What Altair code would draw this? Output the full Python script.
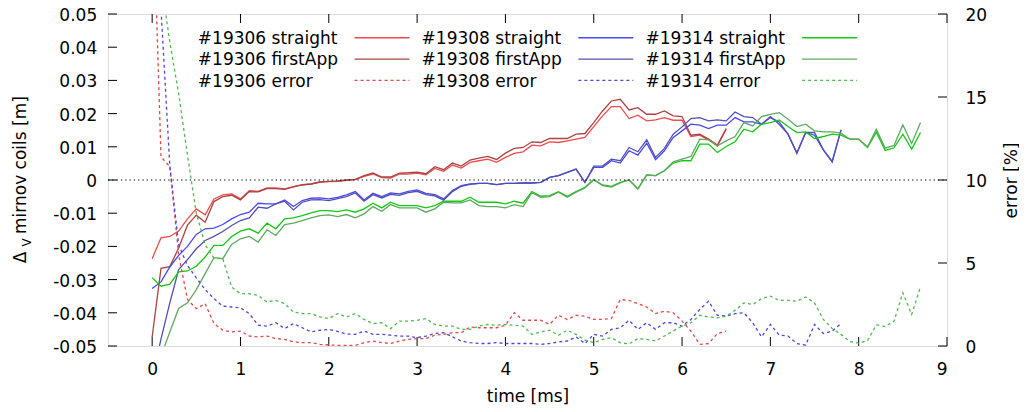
import altair as alt
import pandas as pd

FONT = "DejaVu Sans"
STEP = 0.1  # ms between samples

shots = ["#19306", "#19308", "#19314"]
kinds = ["straight", "firstApp", "error"]

# ---- #19306 ----
r_straight = [-0.0237, -0.0174, -0.0170, -0.0154, -0.0117, -0.0087, -0.0105, -0.0057, -0.0045, -0.0042,
              -0.0057, -0.0032, -0.0034, -0.0024, -0.0024, -0.0027, -0.0020, -0.0014, -0.0012, -0.0006,
              -0.0005, -0.0004, -0.0001, 0.0001, 0.0011, 0.0018, 0.0007, 0.0006, 0.0018, 0.0018,
              0.0021, 0.0016, 0.0035, 0.0026, 0.0045, 0.0036, 0.0053, 0.0058, 0.0063, 0.0053,
              0.0068, 0.0080, 0.0085, 0.0105, 0.0103, 0.0115, 0.0113, 0.0118, 0.0123, 0.0128,
              0.0161, 0.0193, 0.0221, 0.0221, 0.0185, 0.0195, 0.0178, 0.0181, 0.0188, 0.0180,
              0.0180, 0.0131, 0.0135, 0.0121, 0.0102, 0.0153]
r_firstapp = [-0.0473, -0.0266, -0.0261, -0.0205, -0.0136, -0.0106, -0.0127, -0.0065, -0.0050, -0.0046,
              -0.0060, -0.0035, -0.0036, -0.0026, -0.0026, -0.0028, -0.0021, -0.0015, -0.0012, -0.0006,
              -0.0004, -0.0003, 0.0000, 0.0002, 0.0013, 0.0021, 0.0009, 0.0009, 0.0021, 0.0022,
              0.0024, 0.0019, 0.0040, 0.0031, 0.0051, 0.0042, 0.0060, 0.0066, 0.0071, 0.0062,
              0.0081, 0.0095, 0.0098, 0.0115, 0.0113, 0.0125, 0.0125, 0.0125, 0.0138, 0.0140,
              0.0173, 0.0208, 0.0238, 0.0243, 0.0211, 0.0218, 0.0198, 0.0198, 0.0208, 0.0193,
              0.0191, 0.0135, 0.0138, 0.0123, 0.0105, 0.0155]
r_error = [28.6, 11.4, 10.8, 5.5, 2.8, 2.25, 2.55, 1.35, 0.95, 0.85,
           0.9, 0.6, 0.55, 0.6, 0.45, 0.4, 0.25, 0.2, 0.2, 0.1,
           0.06, 0.04, 0.04, 0.04, 0.2, 0.3, 0.2, 0.15, 0.3, 0.4,
           0.45, 0.45, 0.65, 0.7, 0.8, 0.8, 1.15, 1.1, 1.1, 1.1,
           1.25, 2.0, 1.55, 1.55, 1.55, 1.3, 1.85, 1.6, 1.85, 1.8,
           1.6, 1.6, 1.65, 2.8, 2.75, 2.55, 2.35, 1.95, 2.1, 2.0,
           1.5, 0.9, 0.1, 0.15, 0.75, 0.9]

# ---- #19308 ----
b_straight = [-0.0327, -0.0307, -0.0262, -0.0227, -0.0200, -0.0164, -0.0147, -0.0145, -0.0134, -0.0117,
              -0.0104, -0.0097, -0.0070, -0.0072, -0.0072, -0.0060, -0.0080, -0.0062, -0.0055, -0.0054,
              -0.0057, -0.0052, -0.0045, -0.0035, -0.0060, -0.0040, -0.0050, -0.0039, -0.0042, -0.0034,
              -0.0030, -0.0040, -0.0044, -0.0057, -0.0032, -0.0017, -0.0012, -0.0010, -0.0010, -0.0014,
              -0.0010, -0.0010, -0.0009, -0.0009, -0.0007, 0.0008, 0.0013, 0.0023, 0.0033, -0.0007,
              0.0038, 0.0038, 0.0058, 0.0051, 0.0088, 0.0075, 0.0111, 0.0061, 0.0088, 0.0128,
              0.0148, 0.0168, 0.0165, 0.0155, 0.0165, 0.0165, 0.0188, 0.0175, 0.0175, 0.0168,
              0.0188, 0.0175, 0.0138, 0.0081, 0.0143, 0.0135, 0.0091, 0.0055, 0.0151]
b_firstapp = [-0.0600, -0.0479, -0.0370, -0.0270, -0.0240, -0.0207, -0.0182, -0.0170, -0.0155, -0.0137,
              -0.0122, -0.0114, -0.0082, -0.0085, -0.0072, -0.0064, -0.0090, -0.0067, -0.0060, -0.0059,
              -0.0062, -0.0056, -0.0050, -0.0039, -0.0064, -0.0044, -0.0054, -0.0043, -0.0046, -0.0038,
              -0.0034, -0.0044, -0.0048, -0.0061, -0.0035, -0.0019, -0.0013, -0.0010, -0.0010, -0.0014,
              -0.0010, -0.0010, -0.0009, -0.0009, -0.0007, 0.0008, 0.0013, 0.0023, 0.0033, -0.0007,
              0.0042, 0.0042, 0.0063, 0.0058, 0.0098, 0.0085, 0.0121, 0.0068, 0.0095, 0.0138,
              0.0160, 0.0185, 0.0188, 0.0178, 0.0181, 0.0178, 0.0205, 0.0191, 0.0188, 0.0168,
              0.0191, 0.0168, 0.0138, 0.0081, 0.0143, 0.0143, 0.0091, 0.0055, 0.0151]
b_error = [35.0, 20.3, 10.85, 6.1, 4.85, 4.1, 3.4, 2.85, 2.4, 2.35,
           2.3, 1.95, 1.25, 1.2, 1.4, 1.05, 1.35, 1.1, 0.85, 0.95,
           1.0, 0.88, 0.72, 0.7, 0.9, 0.7, 0.7, 0.65, 0.6, 0.6,
           0.5, 0.6, 0.75, 0.8, 0.55, 0.3, 0.2, 0.15, 0.15, 0.2,
           0.15, 0.15, 0.15, 0.15, 0.1, 0.15, 0.25, 0.3, 0.55, 0.15,
           0.7, 0.6, 1.0, 1.1, 1.55, 1.0, 1.4, 1.0, 1.4, 1.4,
           1.2, 1.6, 2.2, 2.7, 1.85, 1.8, 1.95, 2.0, 1.4, 0.55,
           1.3, 0.65, 0.6, 0.15, 0.05, 1.3, 0.75, 0.9, 1.35]

# ---- #19314 ----
g_straight = [-0.0294, -0.0320, -0.0314, -0.0277, -0.0274, -0.0260, -0.0232, -0.0197, -0.0197, -0.0170,
              -0.0154, -0.0147, -0.0160, -0.0130, -0.0147, -0.0117, -0.0114, -0.0107, -0.0099, -0.0092,
              -0.0092, -0.0095, -0.0090, -0.0097, -0.0087, -0.0070, -0.0084, -0.0067, -0.0077, -0.0077,
              -0.0077, -0.0084, -0.0077, -0.0064, -0.0064, -0.0064, -0.0052, -0.0067, -0.0067, -0.0067,
              -0.0072, -0.0064, -0.0070, -0.0035, -0.0049, -0.0047, -0.0035, -0.0049, -0.0035, -0.0022,
              0.0001, -0.0015, -0.0019, -0.0007, 0.0001, -0.0027, 0.0015, 0.0013, 0.0028, 0.0051,
              0.0058, 0.0058, 0.0108, 0.0108, 0.0083, 0.0101, 0.0115, 0.0153, 0.0145, 0.0168,
              0.0173, 0.0181, 0.0161, 0.0143, 0.0145, 0.0125, 0.0131, 0.0138, 0.0135, 0.0123,
              0.0123, 0.0098, 0.0144, 0.0089, 0.0097, 0.0138, 0.0093, 0.0143]
g_firstapp = [-0.0600, -0.0530, -0.0458, -0.0387, -0.0370, -0.0330, -0.0282, -0.0234, -0.0237, -0.0194,
              -0.0177, -0.0170, -0.0187, -0.0150, -0.0167, -0.0134, -0.0130, -0.0122, -0.0114, -0.0107,
              -0.0105, -0.0110, -0.0104, -0.0114, -0.0102, -0.0080, -0.0094, -0.0074, -0.0084, -0.0084,
              -0.0084, -0.0097, -0.0087, -0.0067, -0.0069, -0.0069, -0.0060, -0.0077, -0.0080, -0.0080,
              -0.0084, -0.0074, -0.0080, -0.0038, -0.0052, -0.0050, -0.0037, -0.0052, -0.0037, -0.0024,
              0.0001, -0.0017, -0.0021, -0.0009, 0.0000, -0.0027, 0.0015, 0.0013, 0.0028, 0.0055,
              0.0063, 0.0071, 0.0123, 0.0121, 0.0103, 0.0118, 0.0131, 0.0173, 0.0163, 0.0191,
              0.0198, 0.0203, 0.0183, 0.0161, 0.0168, 0.0148, 0.0145, 0.0145, 0.0141, 0.0123,
              0.0123, 0.0100, 0.0153, 0.0096, 0.0104, 0.0166, 0.0110, 0.0173]
g_error = [30.0, 22.0, 18.3, 15.2, 11.5, 8.0, 6.1, 5.3, 5.25, 3.55,
           3.15, 3.15, 3.05, 2.65, 2.75, 2.55, 2.05, 1.95, 1.95, 1.75,
           1.65, 1.95, 1.75, 1.95, 1.6, 1.35, 1.4, 1.05, 1.5, 1.5,
           1.55, 1.65, 1.3, 1.2, 1.2, 1.0, 1.0, 1.2, 1.3, 1.25,
           1.3, 1.25, 1.2, 0.7, 0.85, 0.95, 0.65, 0.95, 0.7, 0.35,
           0.2, 0.4, 0.5, 0.2, 0.12, 0.45, 0.4, 0.3, 0.6, 0.9,
           1.2, 1.4, 1.85, 1.75, 1.7, 1.8, 2.15, 2.6, 2.5, 2.85,
           3.0, 2.75, 2.75, 2.7, 2.95, 2.6, 1.6, 1.05, 0.7, 0.27,
           0.17, 0.32, 1.27, 1.17, 1.5, 3.2, 1.9, 3.57]

series_colors = ["#f04a4a", "#a84444", "#e04848",
                 "#4848f0", "#5050b4", "#4848e0",
                 "#14c814", "#60a860", "#50b850"]

x_tick_values = [0, 1, 2, 3, 4, 5, 6, 7, 8, 9]
yl_tick_values = [-0.05, -0.04, -0.03, -0.02, -0.01, 0, 0.01, 0.02, 0.03, 0.04, 0.05]
yr_tick_values = [0, 5, 10, 15, 20]

# legend layout (data units): text column starts, sample spans, row levels
LEG_TEXT_T = [0.517, 3.051, 5.585]
LEG_SAMPLE_T = [(2.292, 2.914), (4.826, 5.448), (7.360, 7.982)]
LEG_ROW_V = [0.04285, 0.0364, 0.0300]

W, H = 839, 332
XS = alt.Scale(domain=[-0.5, 9], nice=False, zero=False)
YL = alt.Scale(domain=[-0.05, 0.05], nice=False, zero=False)
YR = alt.Scale(domain=[0, 20], nice=False, zero=False)

XAX = alt.Axis(values=x_tick_values, format="d", title="time [ms]", domain=False, ticks=False, tickSize=0,
               grid=False, labelFont=FONT, labelFontSize=17, labelColor="black", labelPadding=15,
               titleFont=FONT, titleFontSize=17, titleFontWeight="normal", titleColor="black",
               titleY=55.5, titleBaseline="alphabetic")
YLAX = alt.Axis(values=yl_tick_values, title=None, domain=False, ticks=False, tickSize=0, grid=False,
                labelExpr="abs(datum.value) < 1e-9 ? '0' : (datum.value < 0 ? '-' : '') + format(abs(datum.value), '.2f')",
                labelFont=FONT, labelFontSize=17, labelColor="black", labelPadding=11.3, labelOffset=1.5)
YRAX = alt.Axis(orient="right", values=yr_tick_values, format="d", title="error [%]", domain=False,
                ticks=False, tickSize=0, grid=False, labelFont=FONT, labelFontSize=17, labelColor="black",
                labelPadding=18, labelOffset=1.5, titleFont=FONT, titleFontSize=17, titleFontWeight="normal",
                titleColor="black", titleAngle=270, titleX=64, titleBaseline="middle")

data_by_shot = {
    "#19306": (r_straight, r_firstapp, r_error),
    "#19308": (b_straight, b_firstapp, b_error),
    "#19314": (g_straight, g_firstapp, g_error),
}

keys = [f"{s} {k}" for s in shots for k in kinds]
CS = alt.Scale(domain=keys, range=series_colors)

line_rows, err_rows, leg_rows = [], [], []
for i, s in enumerate(shots):
    st, fa, er = data_by_shot[s]
    for kind, vals in (("straight", st), ("firstApp", fa)):
        for j, v in enumerate(vals):
            line_rows.append({"t": round(j * STEP, 1), "v": v, "key": f"{s} {kind}"})
    for j, v in enumerate(er):
        err_rows.append({"t": round(j * STEP, 1), "e": v, "key": f"{s} error"})
    for r, kind in enumerate(kinds):
        leg_rows.append({"label": f"{s} {kind}", "key": f"{s} {kind}",
                         "tx": LEG_TEXT_T[i], "sx1": LEG_SAMPLE_T[i][0], "sx2": LEG_SAMPLE_T[i][1],
                         "ly": LEG_ROW_V[r], "dotted": kind == "error"})

df_lines = pd.DataFrame(line_rows)
df_err = pd.DataFrame(err_rows)
df_leg = pd.DataFrame(leg_rows)

lines = alt.Chart(df_lines).mark_line(strokeWidth=1.3, clip=True).encode(
    x=alt.X("t:Q", scale=XS, axis=XAX),
    y=alt.Y("v:Q", scale=YL, axis=YLAX),
    color=alt.Color("key:N", scale=CS, legend=None),
)

zero = alt.Chart(pd.DataFrame({"v": [0.0]})).mark_rule(
    color="black", strokeWidth=1, strokeDash=[1.3, 3]).encode(
    y=alt.Y("v:Q", scale=YL, axis=YLAX), x=alt.value(0), x2=alt.value(W))

left_ticks = alt.Chart(pd.DataFrame({"v": yl_tick_values})).mark_rule(color="black", strokeWidth=1).encode(
    y=alt.Y("v:Q", scale=YL, axis=YLAX), x=alt.value(0), x2=alt.value(9))

xt = pd.DataFrame({"t": x_tick_values})
x_ticks_bottom = alt.Chart(xt).mark_rule(color="black", strokeWidth=1).encode(
    x=alt.X("t:Q", scale=XS, axis=XAX), y=alt.value(H), y2=alt.value(H - 9))
x_ticks_top = alt.Chart(xt).mark_rule(color="black", strokeWidth=1).encode(
    x=alt.X("t:Q", scale=XS, axis=XAX), y=alt.value(0), y2=alt.value(9))

leg_text = alt.Chart(df_leg).mark_text(
    align="left", baseline="middle", font=FONT, fontSize=17, color="black", dy=1.2).encode(
    x=alt.X("tx:Q", scale=XS, axis=XAX), y=alt.Y("ly:Q", scale=YL, axis=YLAX), text="label:N")
leg_solid = alt.Chart(df_leg).transform_filter("!datum.dotted").mark_rule(strokeWidth=1.3).encode(
    x=alt.X("sx1:Q", scale=XS, axis=XAX), x2="sx2:Q",
    y=alt.Y("ly:Q", scale=YL, axis=YLAX), color=alt.Color("key:N", scale=CS, legend=None))
leg_dotted = alt.Chart(df_leg).transform_filter("datum.dotted").mark_rule(
    strokeWidth=1.3, strokeDash=[3, 3]).encode(
    x=alt.X("sx1:Q", scale=XS, axis=XAX), x2="sx2:Q",
    y=alt.Y("ly:Q", scale=YL, axis=YLAX), color=alt.Color("key:N", scale=CS, legend=None))


def free_text(txt, x, y, size, align="center"):
    return alt.Chart(alt.Data(values=[{}])).mark_text(
        text=txt, font=FONT, fontSize=size, angle=270, align=align, baseline="alphabetic",
        color="black").encode(x=alt.value(x), y=alt.value(y))


title_delta = free_text("Δ", -81.6, 243.5, 17)
title_sub = free_text("V", -77.5, 228.5, 12)
title_rest = free_text("mirnov coils [m]", -81.6, 220, 17, align="left")

errs = alt.Chart(df_err).mark_line(strokeWidth=1.3, strokeDash=[3, 3], clip=True).encode(
    x=alt.X("t:Q", scale=XS, axis=XAX),
    y=alt.Y("e:Q", scale=YR, axis=YRAX),
    color=alt.Color("key:N", scale=CS, legend=None),
)
right_ticks = alt.Chart(pd.DataFrame({"e": yr_tick_values})).mark_rule(color="black", strokeWidth=1).encode(
    y=alt.Y("e:Q", scale=YR, axis=YRAX), x=alt.value(W - 9), x2=alt.value(W))

left_layer = alt.layer(lines, zero, left_ticks, x_ticks_bottom, x_ticks_top,
                       leg_text, leg_solid, leg_dotted, title_delta, title_sub, title_rest)
right_layer = alt.layer(errs, right_ticks)

chart = alt.layer(left_layer, right_layer).resolve_scale(y="independent").properties(
    width=W, height=H,
    padding={"left": 100, "top": 6, "right": 72, "bottom": 60},
    autosize=alt.AutoSizeParams(type="none"),
).configure_view(stroke="black", strokeWidth=1).configure(font=FONT)

chart.save("out.html", embed_options={"renderer": "svg", "actions": False})
